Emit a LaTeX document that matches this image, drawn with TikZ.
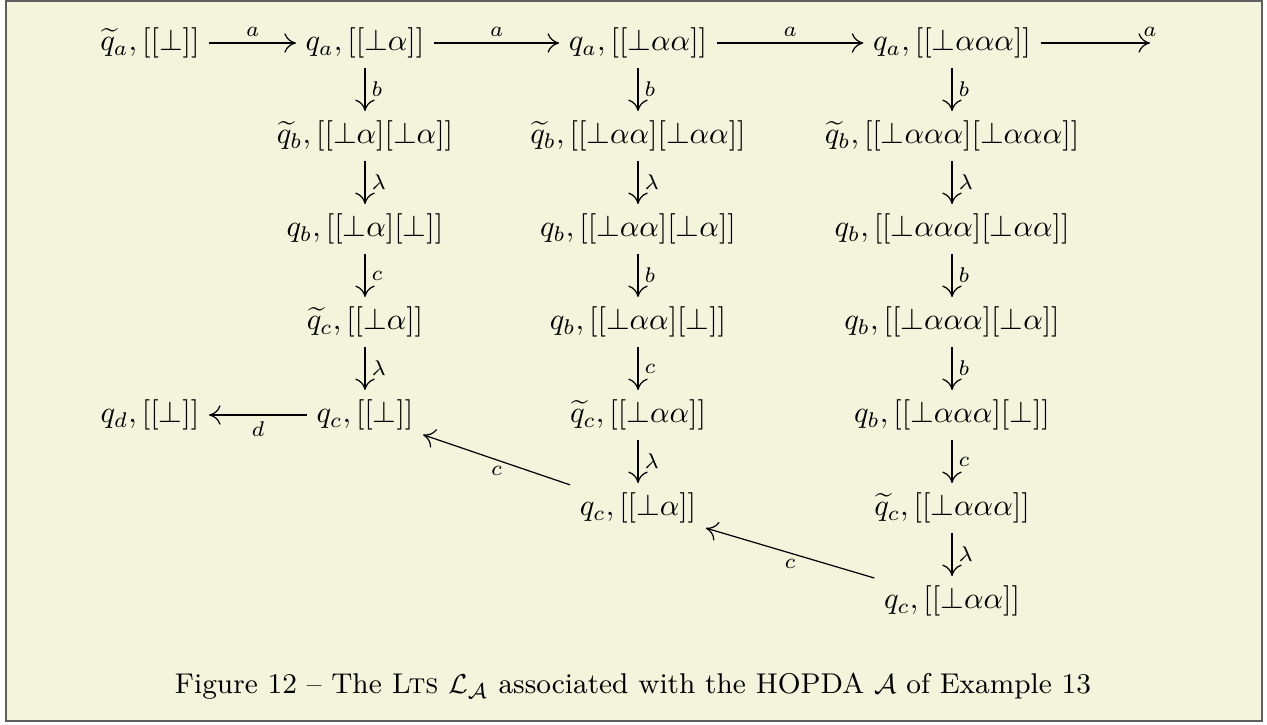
\documentclass[tikz,border=0pt]{standalone}
\usepackage{amsmath,amssymb}
\usetikzlibrary{arrows.meta}
\definecolor{bgyellow}{RGB}{244,244,220}
\definecolor{framegray}{RGB}{95,95,95}
\begin{document}
\begin{tikzpicture}[x=0.3291pt,y=-0.3291pt,
  st/.style={inner sep=3pt, text height=7.5pt, text depth=2.5pt},
  tr/.style={draw, line width=0.4pt, -{To[length=3.8pt,width=6.4pt]}},
  lb/.style={font=\scriptsize, inner sep=2pt}]
\useasboundingbox (0,0) rectangle (1267,724);
\fill[white] (0,0) rectangle (1267,724);
\draw[fill=bgyellow, draw=framegray, line width=0.6pt] (6,1) rectangle (1262,721);
% row 1
\node[st] (n11) at (150,43) {$\widetilde{q}_a, [[\bot]]$};
\node[st] (n12) at (365,43) {$q_a, [[\bot\alpha]]$};
\node[st] (n13) at (638,43) {$q_a, [[\bot\alpha\alpha]]$};
\node[st] (n14) at (952,43) {$q_a, [[\bot\alpha\alpha\alpha]]$};
\coordinate (e15) at (1150,43);
% column 2
\node[st] (n22) at (365,136) {$\widetilde{q}_b, [[\bot\alpha][\bot\alpha]]$};
\node[st] (n32) at (365,229) {$q_b, [[\bot\alpha][\bot]]$};
\node[st] (n42) at (365,322) {$\widetilde{q}_c, [[\bot\alpha]]$};
\node[st] (n52) at (365,415) {$q_c, [[\bot]]$};
\node[st] (n51) at (150,415) {$q_d, [[\bot]]$};
% column 3
\node[st] (n23) at (638,136) {$\widetilde{q}_b, [[\bot\alpha\alpha][\bot\alpha\alpha]]$};
\node[st] (n33) at (638,229) {$q_b, [[\bot\alpha\alpha][\bot\alpha]]$};
\node[st] (n43) at (638,322) {$q_b, [[\bot\alpha\alpha][\bot]]$};
\node[st] (n53) at (638,415) {$\widetilde{q}_c, [[\bot\alpha\alpha]]$};
\node[st] (n63) at (638,508) {$q_c, [[\bot\alpha]]$};
% column 4
\node[st] (n24) at (952,136) {$\widetilde{q}_b, [[\bot\alpha\alpha\alpha][\bot\alpha\alpha\alpha]]$};
\node[st] (n34) at (952,229) {$q_b, [[\bot\alpha\alpha\alpha][\bot\alpha\alpha]]$};
\node[st] (n44) at (952,322) {$q_b, [[\bot\alpha\alpha\alpha][\bot\alpha]]$};
\node[st] (n54) at (952,415) {$q_b, [[\bot\alpha\alpha\alpha][\bot]]$};
\node[st] (n64) at (952,508) {$\widetilde{q}_c, [[\bot\alpha\alpha\alpha]]$};
\node[st] (n74) at (952,601) {$q_c, [[\bot\alpha\alpha]]$};
% horizontal arrows
\draw[tr] (n11) -- (n12) node[midway, above, lb] {$a$};
\draw[tr] (n12) -- (n13) node[midway, above, lb] {$a$};
\draw[tr] (n13) -- (n14) node[midway, above, lb] {$a$};
\draw[tr] (n14) -- (e15) node[pos=1, above, lb] {$a$};
\draw[tr] (n52) -- (n51) node[midway, below, lb] {$d$};
% column 2 arrows
\draw[tr] (n12) -- (n22) node[midway, right, lb] {$b$};
\draw[tr] (n22) -- (n32) node[midway, right, lb] {$\lambda$};
\draw[tr] (n32) -- (n42) node[midway, right, lb] {$c$};
\draw[tr] (n42) -- (n52) node[midway, right, lb] {$\lambda$};
% column 3 arrows
\draw[tr] (n13) -- (n23) node[midway, right, lb] {$b$};
\draw[tr] (n23) -- (n33) node[midway, right, lb] {$\lambda$};
\draw[tr] (n33) -- (n43) node[midway, right, lb] {$b$};
\draw[tr] (n43) -- (n53) node[midway, right, lb] {$c$};
\draw[tr] (n53) -- (n63) node[midway, right, lb] {$\lambda$};
% column 4 arrows
\draw[tr] (n14) -- (n24) node[midway, right, lb] {$b$};
\draw[tr] (n24) -- (n34) node[midway, right, lb] {$\lambda$};
\draw[tr] (n34) -- (n44) node[midway, right, lb] {$b$};
\draw[tr] (n44) -- (n54) node[midway, right, lb] {$b$};
\draw[tr] (n54) -- (n64) node[midway, right, lb] {$c$};
\draw[tr] (n64) -- (n74) node[midway, right, lb] {$\lambda$};
% diagonal arrows
\draw[tr] (n63) -- (n52) node[midway, below, lb] {$c$};
\draw[tr] (n74) -- (n63) node[midway, below, lb] {$c$};
% caption
\node (cap) at (633,686) {\fontsize{9.4}{11}\selectfont Figure 12 -- The \textsc{Lts} $\mathcal{L}_{\mathcal{A}}$ associated with the HOPDA $\mathcal{A}$ of Example 13};
\end{tikzpicture}
\end{document}
